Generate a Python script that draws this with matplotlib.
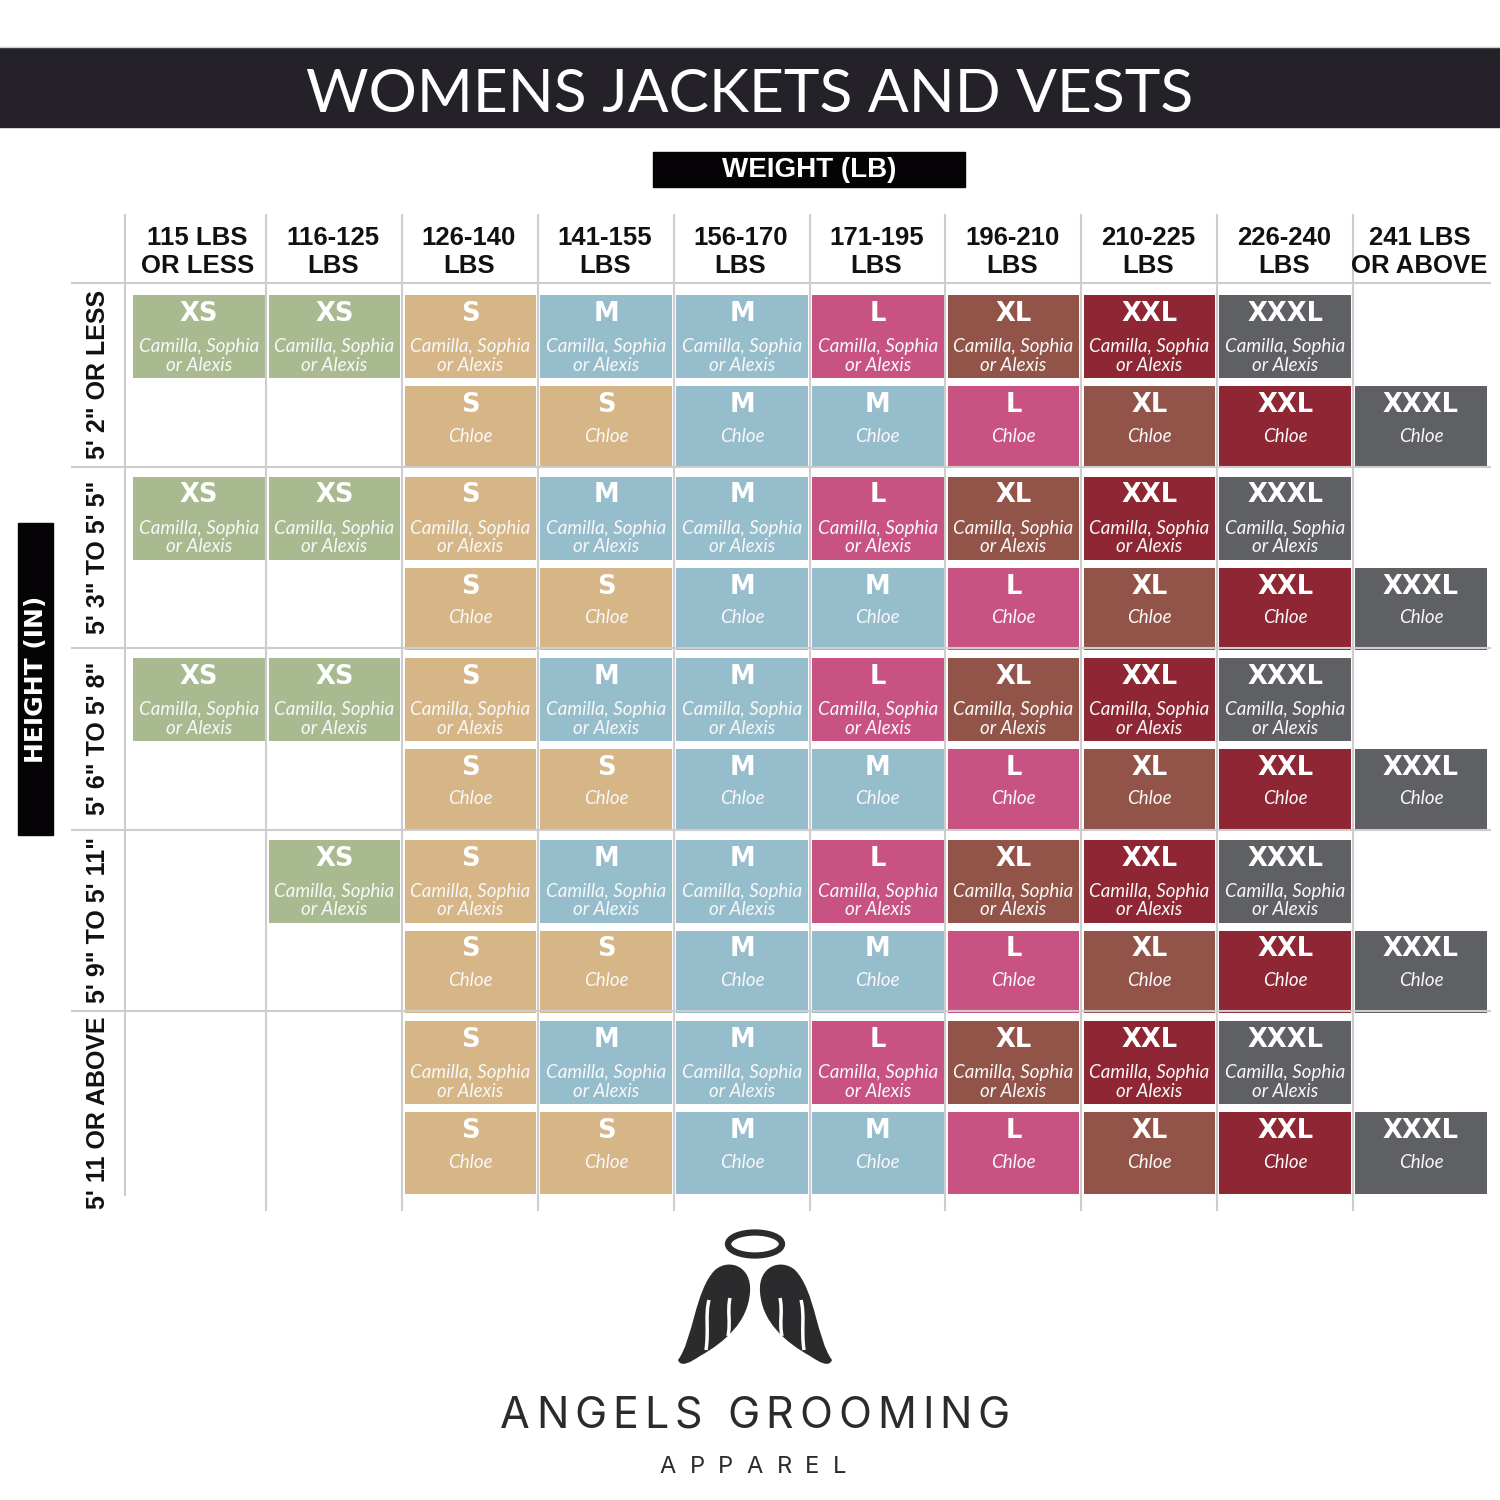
import matplotlib
matplotlib.use('Agg')
import matplotlib.pyplot as plt
from matplotlib.patches import Rectangle, Ellipse, PathPatch
from matplotlib.path import Path

title = 'WOMENS JACKETS AND VESTS'
weight_title = 'WEIGHT (LB)'
height_title = 'HEIGHT (IN)'
weight_labels = ['115 LBS\nOR LESS', '116-125\nLBS', '126-140\nLBS', '141-155\nLBS', '156-170\nLBS',
                 '171-195\nLBS', '196-210\nLBS', '210-225\nLBS', '226-240\nLBS', '241 LBS\nOR ABOVE']
height_labels = ['5\' 2" OR LESS', '5\' 3" TO 5\' 5"', '5\' 6" TO 5\' 8"', '5\' 9" TO 5\' 11"', "5' 11 OR ABOVE"]

# upper cell of each row: Camilla, Sophia or Alexis ('' = no size)
sizes_csa = [
    ['XS', 'XS', 'S', 'M', 'M', 'L', 'XL', 'XXL', 'XXXL', ''],
    ['XS', 'XS', 'S', 'M', 'M', 'L', 'XL', 'XXL', 'XXXL', ''],
    ['XS', 'XS', 'S', 'M', 'M', 'L', 'XL', 'XXL', 'XXXL', ''],
    ['', 'XS', 'S', 'M', 'M', 'L', 'XL', 'XXL', 'XXXL', ''],
    ['', '', 'S', 'M', 'M', 'L', 'XL', 'XXL', 'XXXL', ''],
]
# lower cell of each row: Chloe
sizes_chloe = [
    ['', '', 'S', 'S', 'M', 'M', 'L', 'XL', 'XXL', 'XXXL'],
    ['', '', 'S', 'S', 'M', 'M', 'L', 'XL', 'XXL', 'XXXL'],
    ['', '', 'S', 'S', 'M', 'M', 'L', 'XL', 'XXL', 'XXXL'],
    ['', '', 'S', 'S', 'M', 'M', 'L', 'XL', 'XXL', 'XXXL'],
    ['', '', 'S', 'S', 'M', 'M', 'L', 'XL', 'XXL', 'XXXL'],
]
csa_text = 'Camilla, Sophia\nor Alexis'
chloe_text = 'Chloe'
brand = 'ANGELS GROOMING'
brand_sub = 'APPAREL'

size_colors = {'XS': '#a9ba91', 'S': '#d6b586', 'M': '#96bdcb', 'L': '#c85281',
               'XL': '#925449', 'XXL': '#8e2733', 'XXXL': '#5f6064'}

# layout (pixel units, 1500 x 1500)
col_left0, col_pitch, cell_w = 130.5, 135.8, 131.5
row_top0, row_pitch = 290, 181.5
grid_col = '#cdcdcd'
dark = '#242228'

fig = plt.figure(figsize=(15, 15), dpi=100)
ax = fig.add_axes([0, 0, 1, 1])
ax.set_xlim(0, 1500)
ax.set_ylim(1500, 0)
ax.axis('off')

# title bar
ax.add_patch(Rectangle((0, 48), 1500, 79, color=dark, zorder=1))
ax.plot([0, 1500], [47, 47], color='#d0d0d0', lw=1)
ax.text(750, 95, title, color='white', fontsize=43.5, family=['Lato', 'DejaVu Sans'], fontweight='normal',
        ha='center', va='center')

ax.add_patch(Rectangle((653, 152), 312, 35, color='#050305'))
ax.text(809, 170, weight_title, color='white', fontsize=20, family='Liberation Sans', fontweight='bold',
        ha='center', va='center')

ax.add_patch(Rectangle((18, 523), 35, 312, color='#050305'))
ax.text(36, 679, height_title, color='white', fontsize=18, family='DejaVu Sans', fontweight='bold',
        rotation=90, ha='center', va='center')

# grid lines
ax.plot([72, 1490], [283, 283], color=grid_col, lw=1.5)
for r in range(1, len(height_labels)):
    y = row_top0 + r * row_pitch - 5
    ax.plot([72, 1490], [y, y], color=grid_col, lw=1.5)
ax.plot([125, 125], [215, 1195], color=grid_col, lw=1.5)
for c in range(1, len(weight_labels)):
    x = col_left0 + c * col_pitch
    ax.plot([x, x], [215, 1210], color=grid_col, lw=1.5)

# column headers
for c, lab in enumerate(weight_labels):
    xc = col_left0 + c * col_pitch + cell_w / 2 + 1
    ax.text(xc, 252, lab, color='#111111', fontsize=18.5, family='Liberation Sans', fontweight='bold',
            ha='center', va='center', linespacing=1.2)

# row labels
row_lines = [283] + [row_top0 + r * row_pitch - 5 for r in range(1, len(height_labels))] + [1214]
for r, lab in enumerate(height_labels):
    yc = (row_lines[r] + row_lines[r + 1]) / 2
    ax.text(98, yc, lab, color='#111111', fontsize=18, family='Liberation Sans', fontweight='bold',
            rotation=90, ha='center', va='center')


def draw_cell(x, y, h, size, sub, two_line):
    ax.add_patch(Rectangle((x, y), cell_w, h, color=size_colors[size], lw=0))
    xc = x + cell_w / 2
    ax.text(xc, y + 19, size, color='white', fontsize=18.5, family='DejaVu Sans', fontweight='bold',
            ha='center', va='center')
    if two_line:
        ax.text(xc, y + 61, sub, color='#f8f8f8', fontsize=13.5, family=['Lato', 'DejaVu Sans'], style='italic',
                ha='center', va='center', linespacing=1.08)
    else:
        ax.text(xc, y + 50, sub, color='#f8f8f8', fontsize=13.5, family=['Lato', 'DejaVu Sans'], style='italic',
                ha='center', va='center')


for r in range(len(height_labels)):
    top = row_top0 + r * row_pitch
    for c in range(len(weight_labels)):
        x = col_left0 + c * col_pitch + 2.5
        if sizes_csa[r][c]:
            draw_cell(x, top + 5, 83, sizes_csa[r][c], csa_text, True)
        if sizes_chloe[r][c]:
            draw_cell(x, top + 96, 82, sizes_chloe[r][c], chloe_text, False)

# logo
logo_col = '#2b2a2c'
ax.add_patch(Ellipse((755, 1244), 54, 23, fill=False, ec=logo_col, lw=4.5))
for side in (-1, 1):
    def px(dx):
        return 755 + side * dx
    verts = [(px(77), 1360),
             (px(62), 1340), (px(60), 1290), (px(40), 1270),
             (px(26), 1258), (px(3), 1266), (px(5), 1292),
             (px(7), 1322), (px(30), 1342), (px(55), 1356),
             (px(64), 1362), (px(74), 1368), (px(77), 1360),
             (px(77), 1360)]
    codes = [Path.MOVETO] + [Path.CURVE4] * 12 + [Path.CLOSEPOLY]
    ax.add_patch(PathPatch(Path(verts, codes), fc=logo_col, ec='none'))
    fv = [(px(49), 1350), (px(46), 1330), (px(50), 1315), (px(46), 1300)]
    ax.add_patch(PathPatch(Path(fv, [Path.MOVETO] + [Path.CURVE4] * 3), fc='none', ec='white', lw=2.5))
    fv2 = [(px(27), 1336), (px(24), 1322), (px(28), 1312), (px(25), 1298)]
    ax.add_patch(PathPatch(Path(fv2, [Path.MOVETO] + [Path.CURVE4] * 3), fc='none', ec='white', lw=2.5))


def spaced_text(xc, y, s, track, **kw):
    renderer = fig.canvas.get_renderer()
    objs, widths = [], []
    for ch in s:
        t = ax.text(0, y, ch, ha='left', va='center', **kw)
        widths.append(t.get_window_extent(renderer).width if ch != ' ' else kw.get('fontsize', 10) * 100 / 72 * 0.3)
        objs.append(t)
    total = sum(widths) + track * (len(s) - 1)
    x = xc - total / 2
    for t, w in zip(objs, widths):
        t.set_x(x)
        x += w + track


spaced_text(755, 1416, brand, 6, color=logo_col, fontsize=31, family='Inter')
spaced_text(753, 1467, brand_sub, 13.5, color=logo_col, fontsize=17, family='Inter')

fig.savefig('out.png', dpi=100)
